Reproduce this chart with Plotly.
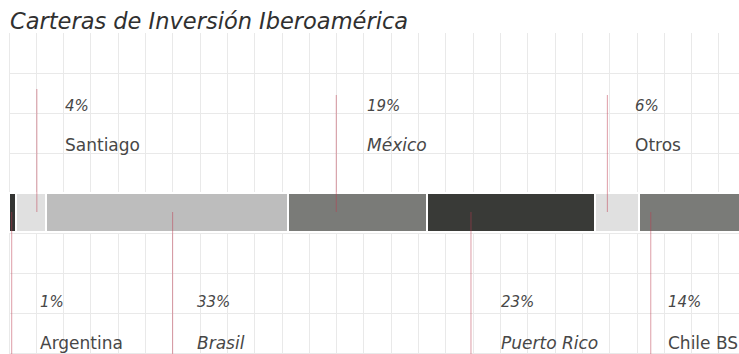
import plotly.graph_objects as go

# Portfolio split by market, in percent of the total
regions = ["Argentina", "Santiago", "Brasil", "México", "Puerto Rico", "Otros", "Chile BS"]
shares = [1, 4, 33, 19, 23, 6, 14]

# Styling per segment
seg_colors = ["#343533", "#e0e0e0", "#bdbdbd", "#7a7b78", "#393a37", "#e0e0e0", "#7a7b78"]
label_side = ["below", "above", "below", "above", "below", "above", "below"]
name_italic = [False, False, True, True, True, False, False]
leader_frac = [0.37, 0.70, 0.525, 0.35, 0.262, 0.272, 0.111]   # where the leader meets the segment
text_shift = [26, 26, 22, 29, 28, 26, 15]                       # px between leader and label
leader_top = [6.6, 6.6, 6.6, 6.45, 6.6, 6.45, 6.6]

W, H = 739, 354
ML, MT = 9, 33
px_per_unit = 7.33
x_max = (W - ML) / px_per_unit
bar_y = 3.525
bar_w = 0.975

fig = go.Figure()
for name, val, col in zip(regions, shares, seg_colors):
    fig.add_trace(go.Bar(
        y=[bar_y], x=[val], orientation="h", width=bar_w,
        marker=dict(color=col, line=dict(color="white", width=2)),
        name=name, showlegend=False, hoverinfo="skip",
    ))

lead_col = "rgba(190,60,80,0.5)"
lab_font = dict(family="DejaVu Sans", size=17, color="#474747")
pct_font = dict(family="DejaVu Sans", size=15, color="#474747", style="italic")

start = 0.0
for i, (name, val) in enumerate(zip(regions, shares)):
    lx = start + leader_frac[i] * val
    if label_side[i] == "above":
        y_end, y_pct, y_name = leader_top[i], 6.18, 5.2
    else:
        y_end, y_pct, y_name = -0.1, 1.27, 0.25
    fig.add_shape(type="line", xref="x", yref="y", x0=lx, x1=lx, y0=bar_y, y1=y_end,
                  line=dict(color=lead_col, width=1))
    fig.add_annotation(x=lx, y=y_pct, xref="x", yref="y", text=f"{val}%", showarrow=False,
                       xanchor="left", yanchor="middle", xshift=text_shift[i], font=pct_font)
    nf = dict(lab_font)
    nf["style"] = "italic" if name_italic[i] else "normal"
    fig.add_annotation(x=lx, y=y_name, xref="x", yref="y", text=name, showarrow=False,
                       xanchor="left", yanchor="middle", xshift=text_shift[i], font=nf)
    start += val

grid = "#e9e9e9"
fig.update_layout(
    width=W, height=H,
    margin=dict(l=ML, r=0, t=MT, b=0),
    barmode="stack",
    plot_bgcolor="white", paper_bgcolor="white",
    title=dict(text="Carteras de Inversión Iberoamérica", xref="container", yref="container",
               x=10 / W, xanchor="left", y=1 - 21.5 / H, yanchor="middle",
               font=dict(family="DejaVu Sans", size=22.5, color="#303030", style="italic")),
    xaxis=dict(range=[0, x_max], tick0=0, dtick=3.725, showticklabels=False, ticks="",
               showgrid=True, gridcolor=grid, gridwidth=1,
               zeroline=True, zerolinecolor=grid, zerolinewidth=1, showline=False, fixedrange=True),
    yaxis=dict(range=[-0.025, 8.0], tick0=0, dtick=1, showticklabels=False, ticks="",
               showgrid=True, gridcolor=grid, gridwidth=1,
               zeroline=True, zerolinecolor=grid, zerolinewidth=1, showline=False, fixedrange=True),
)

fig.write_html("out.html")
